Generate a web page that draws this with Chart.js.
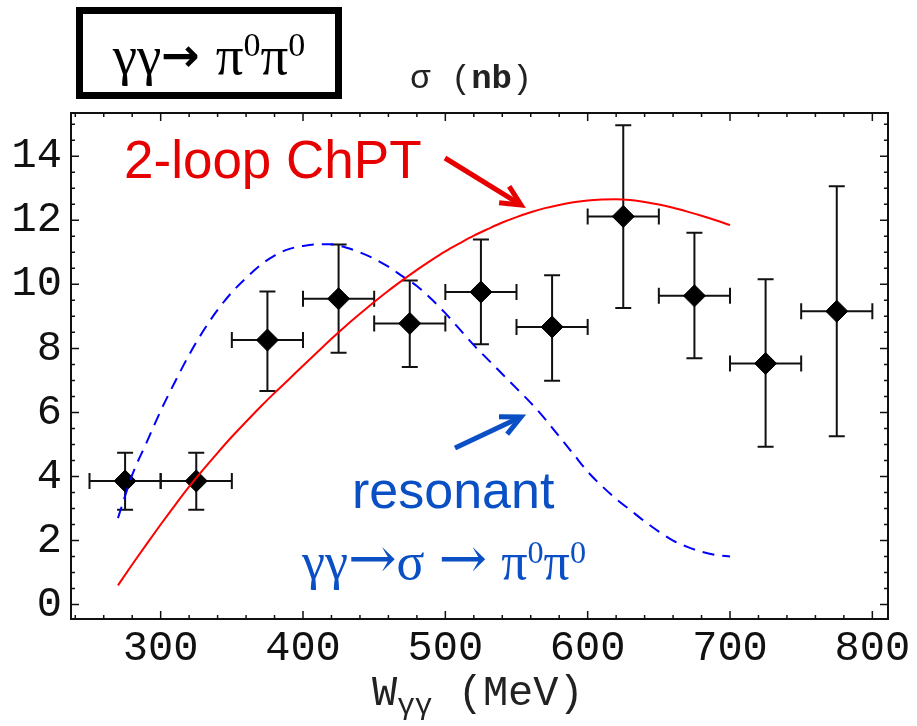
<!DOCTYPE html>
<html><head><meta charset="utf-8">
<script src="https://cdn.jsdelivr.net/npm/chart.js@4.4.1/dist/chart.umd.min.js"></script>
<style>
html,body{margin:0;padding:0;background:#fff;}
#wrap{position:relative;width:917px;height:726px;overflow:hidden;background:#fff;}
#c{position:absolute;left:0;top:0;}
.lbl{position:absolute;white-space:nowrap;line-height:1;}
sup{font-size:62%;vertical-align:0;position:relative;top:-0.5em;line-height:0;}
sub{font-size:70%;vertical-align:0;position:relative;top:0.3em;line-height:0;}
#titlebox{position:absolute;left:76px;top:7px;width:252px;height:78px;border:7px solid #000;
  font-family:"Liberation Serif",serif;font-size:55px;display:flex;align-items:center;justify-content:center;color:#000;}
#titlebox .t{position:relative;top:2px;}
#titlebox .arr{font-family:"DejaVu Sans",sans-serif;font-weight:bold;font-size:46px;margin:0 2px 0 0;position:relative;top:-3px;}
#ylab{left:410px;top:62px;font-family:"Liberation Mono",monospace;font-size:34px;color:#222;}
#chpt{left:124px;top:133px;font-family:"Liberation Sans",Arial,sans-serif;font-size:53px;color:#e60000;}
#reson{left:352px;top:464px;font-family:"Liberation Sans",Arial,sans-serif;font-size:52px;color:#0a50c4;}
#reac{left:302px;top:530px;font-family:"Liberation Serif",serif;font-size:52px;color:#0a50c4;}
#reac .a{font-family:"DejaVu Serif",serif;font-size:58px;position:relative;top:-1px;}
#reac .s{display:inline-block;width:14px;}
#xlab{left:372px;top:673px;font-family:"Liberation Mono",monospace;font-size:42px;color:#222;}
</style></head><body>
<div id="wrap">
<canvas id="c" width="917" height="726"></canvas>
<div id="titlebox"><span class="t">γγ<span class="arr">→</span>&nbsp;π<sup>0</sup>π<sup>0</sup></span></div>
<div class="lbl" id="ylab">σ (<b>nb</b>)</div>
<div class="lbl" id="chpt">2-loop ChPT</div>
<div class="lbl" id="reson">resonant</div>
<div class="lbl" id="reac">γγ<span class="a">→</span>σ<span class="s"></span><span class="a">→</span><span class="s"></span>π<sup>0</sup>π<sup>0</sup></div>
<div class="lbl" id="xlab">W<sub>γγ</sub> (MeV)</div>
</div>
<script>
// ---- data ----
const wCenters   = [275, 325, 375, 425, 475, 525, 575, 625, 675, 725, 775];
const wHalfWidth = [25, 25, 25, 25, 25, 25, 25, 25, 25, 25, 25];
const sigma      = [3.86, 3.86, 8.26, 9.55, 8.78, 9.76, 8.67, 12.12, 9.64, 7.53, 9.16];
const sigmaHi    = [4.74, 4.74, 9.78, 11.24, 10.12, 11.40, 10.28, 14.97, 11.61, 10.16, 13.06];
const sigmaLo    = [2.96, 2.96, 6.67, 7.86, 7.42, 8.13, 6.99, 9.26, 7.69, 4.93, 5.26];

const curveW = [270,280,290,300,310,320,330,340,350,360,370,380,390,400,410,420,430,440,450,460,470,480,490,500,
                510,520,530,540,550,560,570,580,590,600,610,620,630,640,650,660,670,680,690,700];
const chptSigma = [0.6,1.25,1.88,2.5,3.1,3.68,4.22,4.74,5.24,5.71,6.17,6.61,7.03,7.46,7.88,8.3,8.7,9.08,9.45,9.8,
                   10.13,10.45,10.75,11.03,11.28,11.52,11.73,11.93,12.1,12.25,12.38,12.48,12.56,12.62,12.65,12.66,
                   12.63,12.57,12.49,12.39,12.27,12.14,12.0,11.85];
const resSigma  = [2.7,4.05,5.05,6.05,6.95,7.8,8.55,9.2,9.75,10.2,10.6,10.9,11.1,11.2,11.25,11.25,11.15,11.0,10.8,
                   10.55,10.25,9.95,9.55,9.1,8.6,8.1,7.65,7.2,6.75,6.3,5.8,5.25,4.7,4.15,3.7,3.3,2.95,2.6,2.28,2.0,
                   1.8,1.65,1.55,1.5];

const xMajorTicks = [300, 400, 500, 600, 700, 800];
const xMinorTicks = [240,260,280,320,340,360,380,420,440,460,480,520,540,560,580,620,640,660,680,720,740,760,780];
const yMajorTicks = [0, 2, 4, 6, 8, 10, 12, 14];
const yMinorTicks = [0.5,1,1.5,2.5,3,3.5,4.5,5,5.5,6.5,7,7.5,8.5,9,9.5,10.5,11,11.5,12.5,13,13.5,14.5,15];

const xMin = 237, xMax = 811, yMin = -0.45, yMax = 15.35;

const allX = xMajorTicks.concat(xMinorTicks).sort((a,b)=>a-b);
const allY = yMajorTicks.concat(yMinorTicks).sort((a,b)=>a-b);

const framePlugin = {
  id: 'frameTicks',
  beforeDatasetsDraw(chart) {
    const ctx = chart.ctx, xs = chart.scales.x, ys = chart.scales.y;
    ctx.save();
    ctx.strokeStyle = '#111';
    ctx.lineWidth = 2;
    const cap = 8;
    for (let i = 0; i < wCenters.length; i++) {
      const x = xs.getPixelForValue(wCenters[i]);
      const y = ys.getPixelForValue(sigma[i]);
      const yh = ys.getPixelForValue(sigmaHi[i]);
      const yl = ys.getPixelForValue(sigmaLo[i]);
      const xl = xs.getPixelForValue(wCenters[i] - wHalfWidth[i]);
      const xr = xs.getPixelForValue(wCenters[i] + wHalfWidth[i]);
      ctx.beginPath();
      ctx.moveTo(x, yh); ctx.lineTo(x, yl);
      ctx.moveTo(x - cap, yh); ctx.lineTo(x + cap, yh);
      ctx.moveTo(x - cap, yl); ctx.lineTo(x + cap, yl);
      ctx.moveTo(xl, y); ctx.lineTo(xr, y);
      ctx.moveTo(xl, y - cap); ctx.lineTo(xl, y + cap);
      ctx.moveTo(xr, y - cap); ctx.lineTo(xr, y + cap);
      ctx.stroke();
    }
    ctx.restore();
  },
  afterDraw(chart) {
    const ctx = chart.ctx, a = chart.chartArea, xs = chart.scales.x, ys = chart.scales.y;
    ctx.save();
    ctx.strokeStyle = '#111';
    ctx.lineWidth = 2;
    ctx.strokeRect(a.left, a.top, a.right - a.left, a.bottom - a.top);
    ctx.lineWidth = 1.5;
    ctx.beginPath();
    allX.forEach(v => {
      const p = xs.getPixelForValue(v);
      const L = xMajorTicks.includes(v) ? 8 : 4;
      ctx.moveTo(p, a.bottom); ctx.lineTo(p, a.bottom - L);
      ctx.moveTo(p, a.top); ctx.lineTo(p, a.top + L);
    });
    allY.forEach(v => {
      const p = ys.getPixelForValue(v);
      const L = yMajorTicks.includes(v) ? 8 : 4;
      ctx.moveTo(a.left, p); ctx.lineTo(a.left + L, p);
      ctx.moveTo(a.right, p); ctx.lineTo(a.right - L, p);
    });
    ctx.stroke();
    // annotation arrows
    function arrow(x1, y1, x2, y2, color) {
      const ang = Math.atan2(y2 - y1, x2 - x1), h = 22, sp = 0.45;
      ctx.strokeStyle = color; ctx.lineWidth = 5; ctx.lineCap = 'butt'; ctx.lineJoin = 'miter';
      ctx.beginPath(); ctx.moveTo(x1, y1); ctx.lineTo(x2 - 2*Math.cos(ang), y2 - 2*Math.sin(ang)); ctx.stroke();
      ctx.beginPath();
      ctx.moveTo(x2 - h*Math.cos(ang - sp), y2 - h*Math.sin(ang - sp));
      ctx.lineTo(x2, y2);
      ctx.lineTo(x2 - h*Math.cos(ang + sp), y2 - h*Math.sin(ang + sp));
      ctx.stroke();
    }
    arrow(445, 158, 521, 205, '#e60000');
    arrow(455, 448, 521, 417, '#0a50c4');
    ctx.restore();
  }
};

new Chart(document.getElementById('c'), {
  type: 'scatter',
  data: {
    datasets: [
      { type: 'line', label: '2-loop ChPT', data: curveW.map((w, i) => ({x: w, y: chptSigma[i]})),
        borderColor: '#ff0000', borderWidth: 2, pointRadius: 0, cubicInterpolationMode: 'monotone', fill: false },
      { type: 'line', label: 'resonant', data: curveW.map((w, i) => ({x: w, y: resSigma[i]})),
        borderColor: '#0000ff', borderWidth: 2, borderDash: [12, 8], pointRadius: 0, cubicInterpolationMode: 'monotone', fill: false },
      { type: 'scatter', label: 'data', data: wCenters.map((w, i) => ({x: w, y: sigma[i]})),
        pointStyle: 'rectRot', pointRadius: 11, pointHoverRadius: 11,
        backgroundColor: '#000', borderColor: '#000', borderWidth: 1 }
    ]
  },
  options: {
    responsive: false, animation: false, devicePixelRatio: 1,
    layout: { padding: { top: 113, right: 29, left: 0, bottom: 0 } },
    plugins: { legend: { display: false }, tooltip: { enabled: false } },
    scales: {
      x: {
        type: 'linear', min: xMin, max: xMax,
        afterBuildTicks: s => { s.ticks = allX.map(v => ({value: v})); },
        afterFit: s => { s.height = 107; },
        grid: { display: false, drawTicks: false },
        border: { display: false },
        ticks: { autoSkip: false, maxRotation: 0, minRotation: 0, padding: 5, color: '#111',
          font: { family: 'Liberation Mono', size: 42 },
          callback: v => xMajorTicks.includes(v) ? String(v) : '' }
      },
      y: {
        type: 'linear', min: yMin, max: yMax,
        afterBuildTicks: s => { s.ticks = allY.map(v => ({value: v})); },
        afterFit: s => { s.width = 71; },
        grid: { display: false, drawTicks: false },
        border: { display: false },
        ticks: { autoSkip: false, padding: 9, color: '#111',
          font: { family: 'Liberation Mono', size: 42 },
          callback: v => yMajorTicks.includes(v) ? String(v) : '' }
      }
    }
  },
  plugins: [framePlugin]
});
</script>
</body></html>
